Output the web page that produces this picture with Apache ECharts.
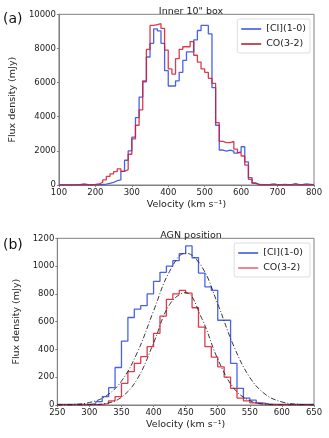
<!DOCTYPE html>
<html>
<head>
<meta charset="utf-8">
<script src="https://cdn.jsdelivr.net/npm/echarts@6/dist/echarts.min.js"></script>
<style>
  html, body { margin: 0; padding: 0; background: #fff; }
  #chart { width: 329px; height: 438px; }
</style>
</head>
<body>
<div id="chart"></div>
<script>
// panel (a): Inner 10" box, 10 km/s channels (bin starts)
const velA = [100,110,120,130,140,150,160,170,180,190,200,210,220,230,240,250,260,270,280,290,
  300,310,320,330,340,350,360,370,380,390,400,410,420,430,440,450,460,470,480,490,
  500,510,520,530,540,550,560,570,580,590,600,610,620,630,640,650,660,670,680,690,
  700,710,720,730,740,750,760,770,780,790];
const ciA = [0,0,0,10,20,30,60,20,0,10,20,30,50,100,150,250,300,800,1450,2000,
  2800,3950,5150,6050,7500,8300,9150,9030,8300,6700,5800,5800,6100,6600,7300,7800,7800,8500,9050,9350,
  9350,8850,5700,3500,2050,1990,2050,1990,1870,1950,2240,1360,430,120,30,20,20,30,60,20,
  20,30,20,30,80,20,30,60,40,20];
const coA = [10,10,10,10,10,10,20,10,20,30,60,150,300,500,650,780,950,800,900,1800,
  2700,3500,4400,6100,7950,9350,9400,9450,9170,7900,6800,6500,7400,7950,8100,8100,8400,7600,7200,6800,
  6600,6250,5950,3650,2550,2480,2480,2550,2100,1900,1700,1170,330,100,20,10,10,10,10,10,
  10,10,10,10,10,10,10,10,10,10];

// panel (b): AGN position
const velB = [250,260,270,280,290,300,310,320,330,340,350,360,370,380,390,400,410,420,430,440,
  450,460,470,480,490,500,510,520,530,540,550,560,570,580,590,600,610,620,630,640];
const ciB = [5,5,5,5,5,10,25,60,125,270,460,630,690,715,800,890,955,1000,1040,1090,
  1145,1060,950,850,825,610,610,300,120,50,35,15,8,5,5,5,5,5,5,5];
const coB = [3,3,3,3,3,3,5,10,30,60,156,240,300,348,420,516,640,760,800,825,
  805,700,560,420,345,275,200,120,50,30,15,8,5,3,3,3,3,3,3,3];

// gaussian fits (dash-dot)
const fitVel = [250,275,300,325,350,375,400,425,450,475,500,525,550,575,600,625,650];
const ciFit = [1,4,18,62,172,381,677,962,1094,997,727,424,198,74,22,5,1];
const coFit = [0,0,2,11,56,190,446,724,809,624,331,121,31,5,1,0,0];

const BLUE = 'rgba(40,70,230,0.85)';
const RED = 'rgba(215,25,45,0.85)';

function steps(vel, val) {
  let d = vel.map((v, i) => [v, val[i]]);
  d.push([vel[vel.length - 1] + 10, val[val.length - 1]]);
  return d;
}
function pairs(x, y) {
  return x.map((v, i) => [v, y[i]]);
}

let chart = echarts.init(document.getElementById('chart'));
const font = 'DejaVu Sans';
const axisGrey = '#808080';

function xAxisCfg(idx, min, max, interval) {
  return {
    type: 'value', gridIndex: idx, min: min, max: max, interval: interval,
    name: 'Velocity (km s⁻¹)', nameLocation: 'middle', nameGap: 15,
    nameTextStyle: { fontFamily: font, fontSize: 9.5, color: '#222' },
    axisLine: { show: true, lineStyle: { color: axisGrey, width: 1 } },
    axisTick: { show: true, length: 2, lineStyle: { color: axisGrey } },
    axisLabel: { fontFamily: font, fontSize: 8.5, color: '#222', margin: 3 },
    splitLine: { show: false }
  };
}
function yAxisCfg(idx, min, max, interval) {
  return {
    type: 'value', gridIndex: idx, min: min, max: max, interval: interval,
    name: 'Flux density (mJy)', nameLocation: 'middle', nameGap: 33,
    nameTextStyle: { fontFamily: font, fontSize: 9.5, color: '#222' },
    axisLine: { show: true, lineStyle: { color: axisGrey, width: 1 } },
    axisTick: { show: true, length: 2, lineStyle: { color: axisGrey } },
    axisLabel: { fontFamily: font, fontSize: 8.5, color: '#222', margin: 3,
      formatter: v => String(v) },
    splitLine: { show: false }
  };
}
function stepSeries(name, xi, data, color, z) {
  return {
    name: name, type: 'line', xAxisIndex: xi, yAxisIndex: xi, step: 'end',
    data: data, showSymbol: false, symbol: 'none', z: z,
    lineStyle: { color: color, width: 1.3 }, itemStyle: { color: color },
    animation: false
  };
}
function fitSeries(xi, data) {
  return {
    type: 'line', xAxisIndex: xi, yAxisIndex: xi, smooth: 0.4, data: data,
    showSymbol: false, symbol: 'none', z: 5,
    lineStyle: { color: '#222', width: 0.9, type: [5, 2, 1, 2] },
    animation: false
  };
}
function legendCfg(idx, top, coColor) {
  return {
    top: top, right: 19, orient: 'vertical', itemGap: 5,
    itemWidth: 20, itemHeight: 1.5, icon: 'rect',
    backgroundColor: '#fff', borderColor: '#ddd', borderWidth: 1, borderRadius: 2,
    padding: [5, 4, 4, 4],
    textStyle: { fontFamily: font, fontSize: 9.5, color: '#222' },
    data: [
      { name: idx === 0 ? '[CI](1-0)' : '[CI](1-0) ', itemStyle: { color: '#2f4fe0' } },
      { name: idx === 0 ? 'CO(3-2)' : 'CO(3-2) ', itemStyle: { color: coColor } }
    ]
  };
}

let option = {
  backgroundColor: '#fff',
  animation: false,
  title: [
    { text: 'Inner 10" box', left: 186, textAlign: 'center', top: 2,
      textStyle: { fontFamily: font, fontSize: 9.5, fontWeight: 'normal', color: '#222' } },
    { text: 'AGN position', left: 186, textAlign: 'center', top: 226,
      textStyle: { fontFamily: font, fontSize: 9.5, fontWeight: 'normal', color: '#222' } }
  ],
  grid: [
    { left: 57.5, top: 14.3, width: 256.5, height: 170.7, show: true, borderColor: axisGrey, borderWidth: 1 },
    { left: 57.3, top: 238.3, width: 256.7, height: 166.7, show: true, borderColor: axisGrey, borderWidth: 1 }
  ],
  xAxis: [xAxisCfg(0, 100, 800, 100), xAxisCfg(1, 250, 650, 50)],
  yAxis: [yAxisCfg(0, 0, 10000, 2000), yAxisCfg(1, 0, 1200, 200)],
  legend: [legendCfg(0, 19, '#a8182a'), legendCfg(1, 243, '#e06070')],
  series: [
    stepSeries('[CI](1-0)', 0, steps(velA, ciA), BLUE, 3),
    stepSeries('CO(3-2)', 0, steps(velA, coA), RED, 4),
    stepSeries('[CI](1-0) ', 1, steps(velB, ciB), BLUE, 3),
    stepSeries('CO(3-2) ', 1, steps(velB, coB), RED, 4),
    fitSeries(1, pairs(fitVel, ciFit)),
    fitSeries(1, pairs(fitVel, coFit))
  ],
  graphic: [
    { type: 'text', left: 3, top: 12, style: { text: '(a)', font: '14px "DejaVu Sans"', fill: '#111' } },
    { type: 'text', left: 3, top: 238, style: { text: '(b)', font: '14px "DejaVu Sans"', fill: '#111' } }
  ]
};
chart.setOption(option);
</script>
</body>
</html>
